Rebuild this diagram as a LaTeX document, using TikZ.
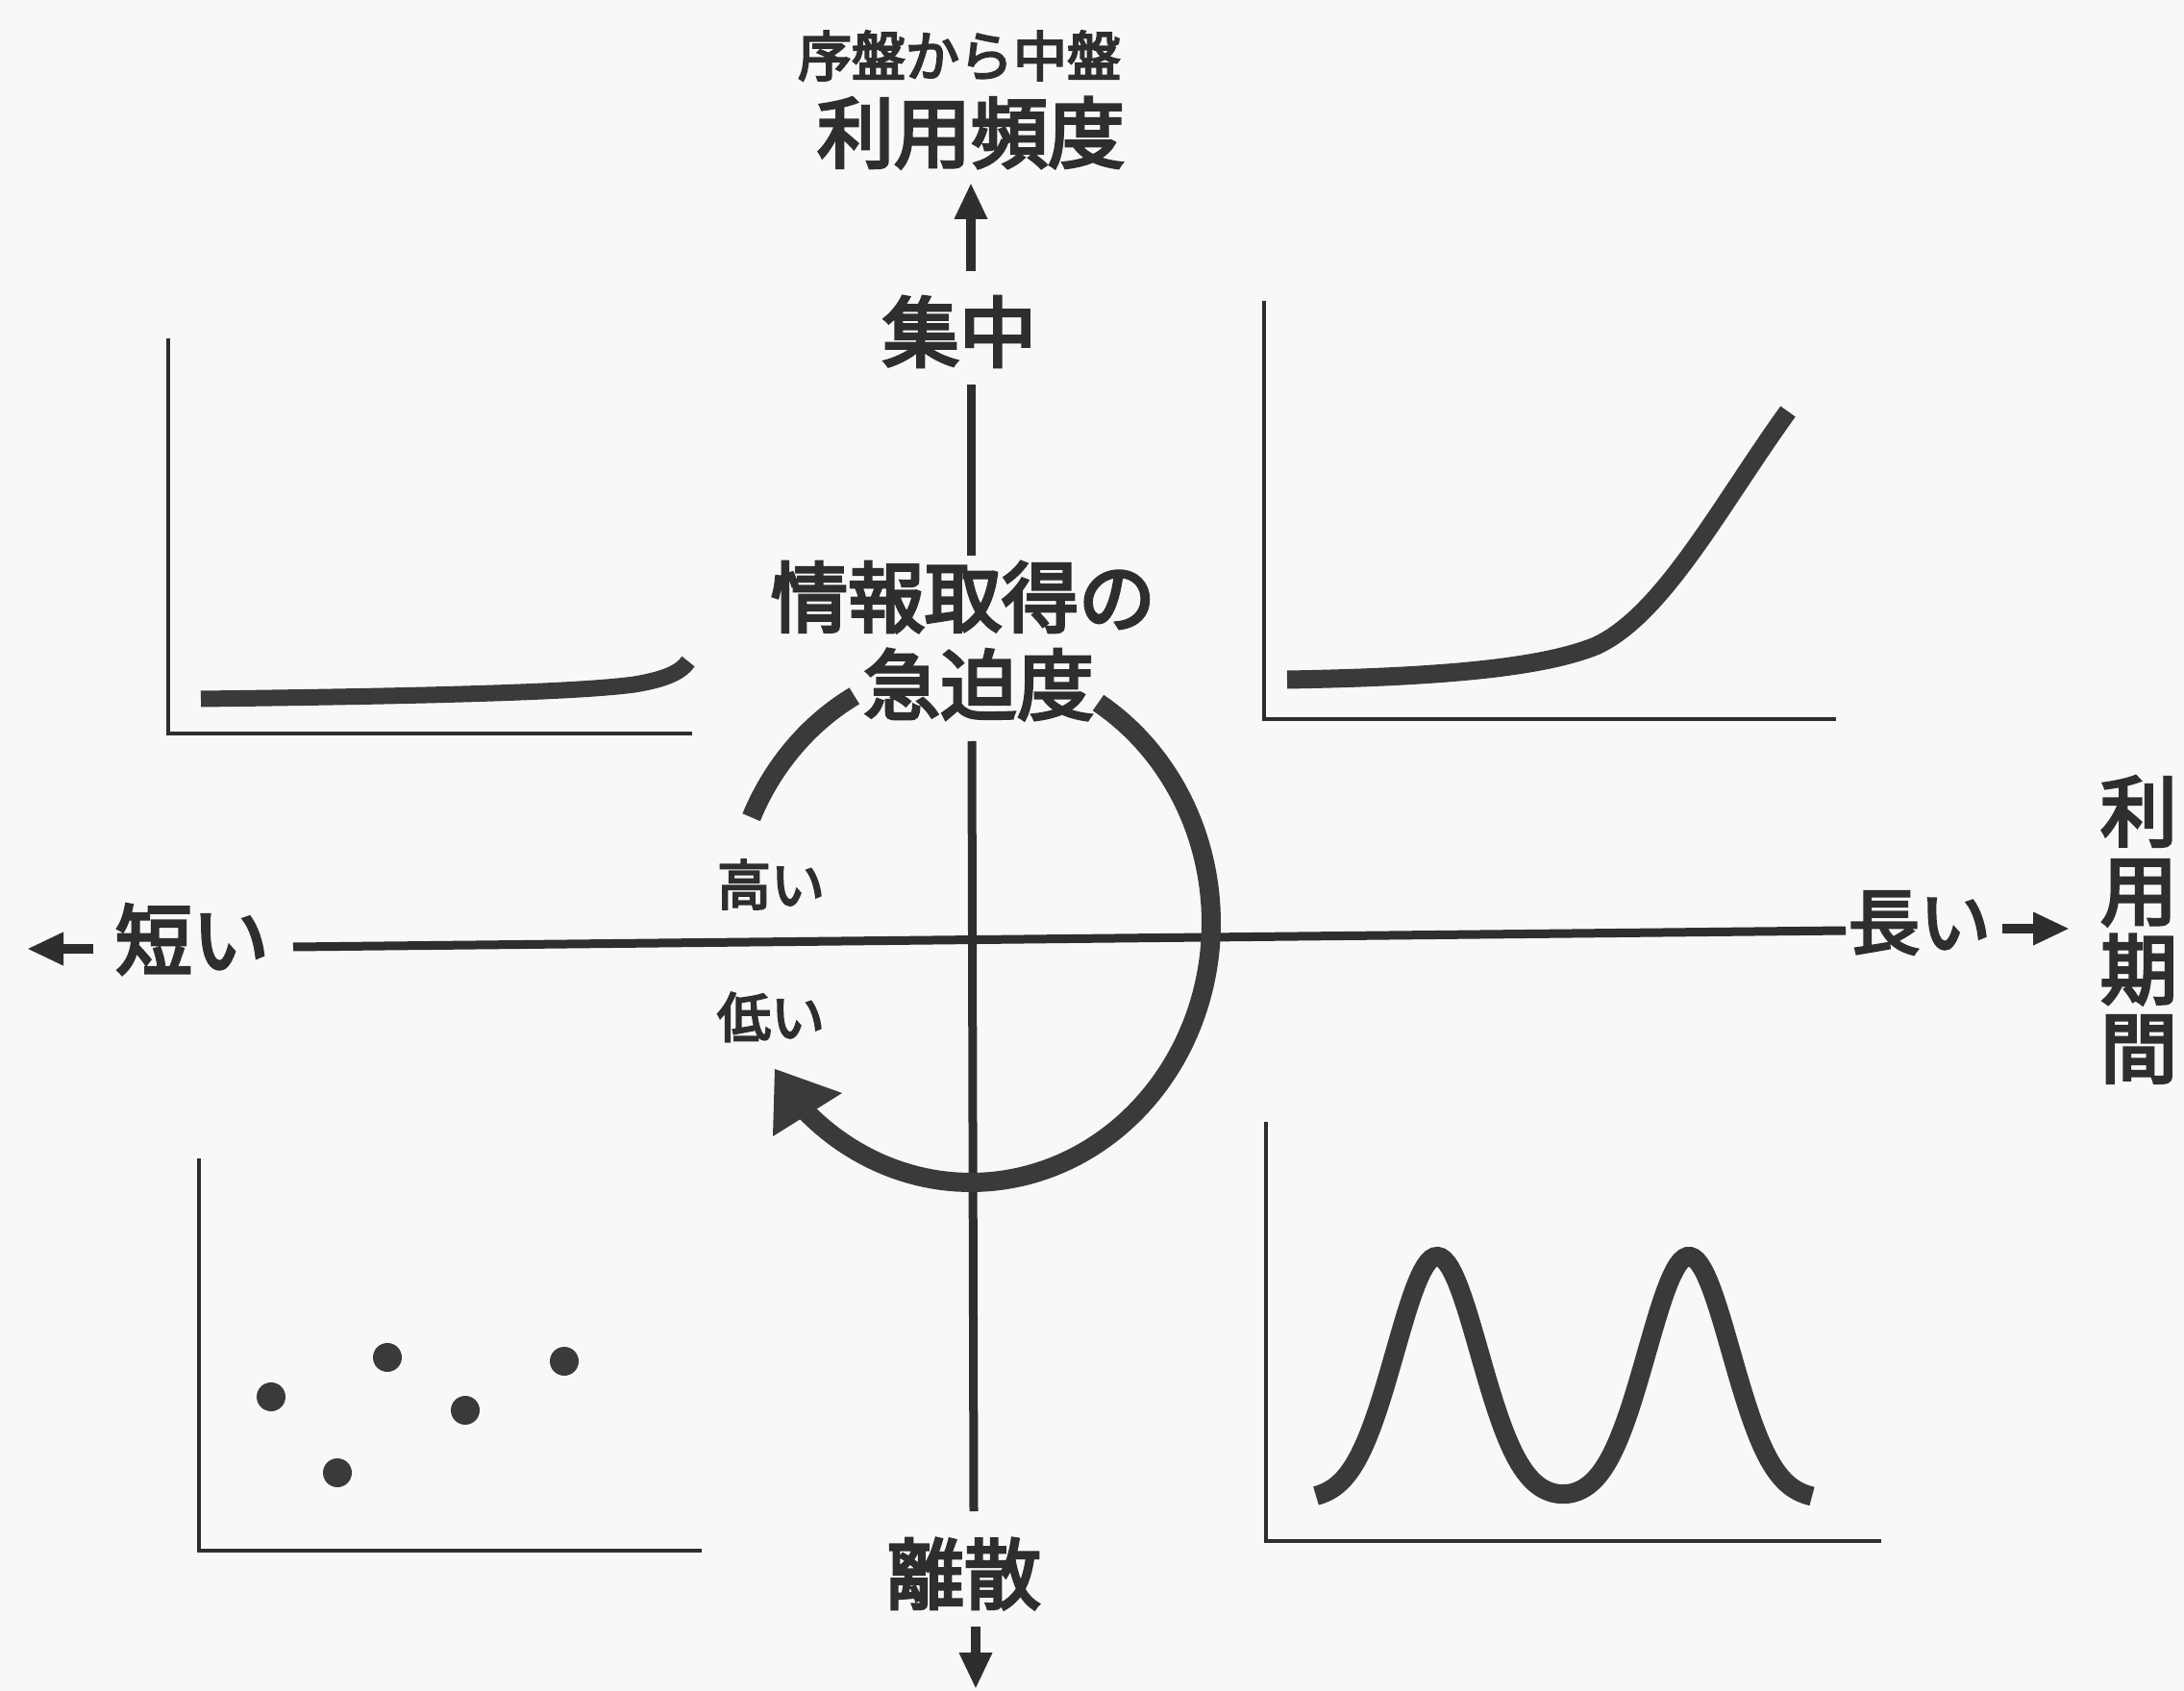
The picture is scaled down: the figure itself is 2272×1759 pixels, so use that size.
\documentclass[tikz,border=0pt]{standalone}
\usepackage{fontspec}
\newfontfamily\jp[FakeBold=4]{Noto Sans CJK JP}
\usetikzlibrary{arrows.meta}
\definecolor{bg}{HTML}{F8F8F8}
\definecolor{ink}{HTML}{2E2E2E}
\definecolor{curve}{HTML}{3A3A3A}
\tikzset{
  lbl/.style={inner sep=0pt, text=ink, font=\jp\fontsize{40pt}{48pt}\selectfont},
  smalllbl/.style={lbl, font=\jp\fontsize{28pt}{34pt}\selectfont},
  axisline/.style={draw=ink, line width=4.5pt},
  axisarrow/.style={draw=ink, line width=5pt, -{Triangle[length=19pt,width=16pt]}},
  plotaxis/.style={draw=ink, line width=2pt},
  thickcurve/.style={draw=curve, line width=9.5pt},
  dot/.style={fill=curve, draw=none}
}
\begin{document}
\begin{tikzpicture}[x=0.5pt,y=-0.5pt]
\useasboundingbox (0,0) rectangle (2272,1759);
\fill[bg] (0,0) rectangle (2272,1759);

% ---- text labels ----
\node[smalllbl] (sub)    at (998,58)   {序盤から中盤};
\node[lbl]      (freq)   at (1010,138) {利用頻度};
\node[lbl]      (conc)   at (998,345)  {集中};
\node[lbl]      (info)   at (1002,621) {情報取得の};
\node[lbl]      (urg)    at (1018,712) {急迫度};
\node[smalllbl] (high)   at (802,920)  {高い};
\node[smalllbl] (low)    at (802,1058) {低い};
\node[lbl]      (short)  at (200,977)  {短い};
\node[lbl, font=\jp\fontsize{37pt}{44pt}\selectfont] (long) at (1997,960) {長い};
\node[lbl, align=center, font=\jp\fontsize{40pt}{41pt}\selectfont] (period) at (2225,967) {利\\用\\期\\間};
\node[lbl]      (disc)   at (1003,1637) {離散};

% ---- axis coordinates ----
\coordinate (upS)  at (1010,282);
\coordinate (upT)  at (1010,190);
\coordinate (vA)   at (1010,400);
\coordinate (vB)   at (1010,578);
\coordinate (vC)   at (1011,771);
\coordinate (vD)   at (1013,1572);
\coordinate (dnS)  at (1015,1692);
\coordinate (dnT)  at (1015,1757);
\coordinate (hL)   at (305,985);
\coordinate (hR)   at (1920,968);
\coordinate (lS)   at (97,987);
\coordinate (lT)   at (28,987);
\coordinate (rS)   at (2083,966);
\coordinate (rT)   at (2153,966);

\draw[axisarrow] (upS) -- (upT);
\draw[axisline] (vA) -- (vB);
\draw[axisline] (vC) -- (vD);
\draw[axisarrow] (dnS) -- (dnT);
\draw[axisline] (hL) -- (hR);
\draw[axisarrow] (lS) -- (lT);
\draw[axisarrow] (rS) -- (rT);

% ---- cycle arrow (ellipse) ----
\draw[thickcurve, line width=10pt] plot[domain=-58:134, samples=100, variable=\t]
  ({1010+250*cos(\t)},{960+270*sin(\t)});
\coordinate (ahT) at (806,1112);
\coordinate (ahA) at (804,1182);
\coordinate (ahB) at (876,1137);
\fill[curve] (ahT) -- (ahA) -- (ahB) -- cycle;
\draw[thickcurve, line width=10pt] plot[domain=-156:-119, samples=30, variable=\t]
  ({1010+250*cos(\t)},{960+270*sin(\t)});

% ---- top-left plot ----
\coordinate (tlTop) at (175,352);
\coordinate (tlO)   at (175,763);
\coordinate (tlR)   at (720,763);
\draw[plotaxis] (tlTop) -- (tlO) -- (tlR);
\draw[thickcurve, line width=8.5pt] (209,727) .. controls (450,724) and (600,720) .. (660,712)
  .. controls (690,707) and (708,700) .. (716,688);

% ---- top-right plot ----
\coordinate (trTop) at (1315,313);
\coordinate (trO)   at (1315,748);
\coordinate (trR)   at (1910,748);
\draw[plotaxis] (trTop) -- (trO) -- (trR);
\draw[thickcurve] (1339,707) .. controls (1520,704) and (1610,692) .. (1660,672)
  .. controls (1730,640) and (1790,525) .. (1860,428);

% ---- bottom-left plot ----
\coordinate (blTop) at (207,1205);
\coordinate (blO)   at (207,1613);
\coordinate (blR)   at (730,1613);
\draw[plotaxis] (blTop) -- (blO) -- (blR);
\fill[dot] (282,1453) circle[radius=15];
\fill[dot] (403,1412) circle[radius=15];
\fill[dot] (351,1532) circle[radius=15];
\fill[dot] (484,1467) circle[radius=15];
\fill[dot] (587,1416) circle[radius=15];

% ---- bottom-right plot ----
\coordinate (brTop) at (1317,1167);
\coordinate (brO)   at (1317,1603);
\coordinate (brR)   at (1957,1603);
\draw[plotaxis] (brTop) -- (brO) -- (brR);
\draw[thickcurve, line width=10pt] plot[domain=1369:1885, samples=160, variable=\x]
  (\x, {1560-253*(exp(-((\x-1495)/62)^2) + exp(-((\x-1757)/62)^2))});
\end{tikzpicture}
\end{document}
